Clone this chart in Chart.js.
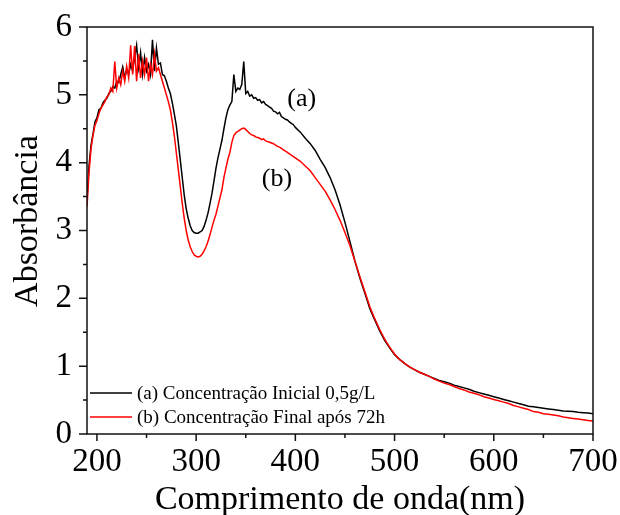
<!DOCTYPE html>
<html>
<head>
<meta charset="utf-8">
<title>Absorbância</title>
<script src="https://cdn.jsdelivr.net/npm/chart.js@4.4.0/dist/chart.umd.min.js"></script>
<style>
html,body{margin:0;padding:0;background:#fff;}
canvas{display:block;}
</style>
</head>
<body>
<canvas id="grafico_absorbancia" width="620" height="515"></canvas>
<script>
var comprimento_onda = [
	190,192,194,196,198,200,202,204,206,208,
	210,212,214,216,218,220,222,224,226,228,
	230,232,234,236,238,240,242,244,246,248,
	250,252,254,256,258,260,262,264,266,268,
	270,272,274,276,278,280,282,284,286,288,
	290,292,294,296,298,300,302,304,306,308,
	310,312,314,316,318,320,322,324,326,328,
	330,332,334,336,338,340,342,344,346,348,
	350,352,354,356,358,360,362,364,366,368,
	370,372,374,376,378,380,382,384,386,388,
	390,392,394,396,398,400,
	405,410,415,420,425,430,435,440,445,450,
	455,460,465,470,475,480,485,490,495,500,
	505,510,515,520,525,530,535,540,545,550,
	555,560,565,570,575,580,585,590,595,600,
	605,610,615,620,625,630,635,640,645,650,
	655,660,665,670,675,680,685,690,695,700
];
var abs_inicial = [
	3.45,3.95,4.25,4.42,4.60,4.66,4.78,4.80,4.88,4.92,
	4.95,5.02,5.05,5.12,5.10,5.20,5.18,5.30,5.41,5.25,
	5.38,5.30,5.45,5.35,5.55,5.73,5.40,5.62,5.30,5.55,
	5.35,5.45,5.30,5.81,5.35,5.69,5.45,5.47,5.30,5.28,
	5.20,5.10,5.02,4.88,4.72,4.55,4.30,4.04,3.78,3.52,
	3.32,3.18,3.07,3.00,2.97,2.96,2.96,2.98,3.00,3.06,
	3.15,3.26,3.40,3.55,3.73,3.92,4.07,4.20,4.33,4.50,
	4.66,4.78,4.85,4.90,5.30,5.05,5.10,5.08,5.15,5.49,
	5.02,5.05,4.98,5.00,4.95,4.96,4.92,4.93,4.88,4.90,
	4.86,4.84,4.82,4.80,4.76,4.75,4.72,4.74,4.68,4.66,
	4.64,4.63,4.60,4.58,4.56,4.52,
	4.45,4.36,4.28,4.18,4.05,3.93,3.78,3.60,3.38,3.12,
	2.84,2.55,2.30,2.08,1.85,1.68,1.52,1.38,1.27,1.17,
	1.10,1.04,0.99,0.95,0.91,0.88,0.85,0.82,0.79,0.77,
	0.75,0.72,0.70,0.68,0.66,0.63,0.61,0.59,0.57,0.55,
	0.53,0.51,0.49,0.47,0.45,0.43,0.41,0.40,0.39,0.38,
	0.37,0.36,0.35,0.34,0.335,0.33,0.32,0.315,0.31,0.30
];
var abs_final = [
	3.35,3.85,4.20,4.40,4.55,4.62,4.72,4.80,4.85,4.90,
	4.97,5.00,5.10,5.05,5.49,5.10,5.25,5.15,5.35,5.20,
	5.42,5.25,5.73,5.30,5.72,5.20,5.60,5.25,5.50,5.30,
	5.55,5.20,5.45,5.30,5.60,5.35,5.40,5.30,5.20,5.10,
	5.00,4.90,4.78,4.60,4.40,4.15,3.90,3.65,3.40,3.18,
	3.00,2.86,2.76,2.69,2.64,2.62,2.61,2.62,2.65,2.70,
	2.76,2.84,2.94,3.05,3.15,3.24,3.36,3.48,3.60,3.78,
	3.92,4.05,4.15,4.30,4.40,4.44,4.46,4.48,4.50,4.51,
	4.49,4.46,4.43,4.41,4.40,4.38,4.37,4.36,4.34,4.35,
	4.32,4.31,4.30,4.29,4.28,4.26,4.24,4.23,4.21,4.19,
	4.17,4.15,4.13,4.11,4.09,4.07,
	4.02,3.95,3.88,3.78,3.68,3.58,3.45,3.31,3.15,2.97,
	2.78,2.55,2.32,2.10,1.88,1.70,1.54,1.40,1.28,1.18,
	1.10,1.04,0.99,0.95,0.91,0.88,0.85,0.81,0.78,0.75,
	0.73,0.70,0.67,0.65,0.62,0.60,0.58,0.55,0.53,0.51,
	0.49,0.47,0.45,0.42,0.40,0.38,0.36,0.33,0.32,0.30,
	0.29,0.28,0.27,0.25,0.24,0.23,0.22,0.21,0.20,0.19
];
var x_ticks = [200,300,400,500,600,700];
var x_ticks_menores = [250,350,450,550,650];
var y_ticks = [0,1,2,3,4,5,6];
var y_ticks_menores = [0.5,1.5,2.5,3.5,4.5,5.5];
var series_nomes = ["(a) Concentração Inicial 0,5g/L","(b) Concentração Final após 72h"];
var series_cores = ["#000000","#ff0000"];
var rotulos_curvas = ["(a)","(b)"];
var rotulos_x = [406.5,381.5];
var rotulos_y = [4.83,3.65];
var titulo_x = "Comprimento de onda(nm)";
var titulo_y = "Absorbância";

var fonte = "'Liberation Serif', 'Times New Roman', serif";

function montar_pontos(valores){
	var pontos = [];
	for(var i=0;i<comprimento_onda.length;i++){
		pontos.push({x:comprimento_onda[i], y:valores[i]});
	}
	return pontos;
}

// tira o padding automatico dos eixos, a area do grafico fica fixa
function zerar_padding(s){
	s.paddingTop = 0;
	s.paddingBottom = 0;
	s.paddingLeft = 0;
	s.paddingRight = 0;
}

var plugin_moldura = {
	id: "moldura",
	afterDatasetsDraw: function(chart){
		var ctx = chart.ctx;
		var a = chart.chartArea;
		var sx = chart.scales.x;
		var sy = chart.scales.y;
		ctx.save();
		// caixa e marcas dos eixos
		ctx.strokeStyle = "#111";
		ctx.lineWidth = 1.5;
		ctx.strokeRect(a.left, a.top, a.right-a.left, a.bottom-a.top);
		ctx.beginPath();
		y_ticks.forEach(function(v){
			var p = sy.getPixelForValue(v);
			ctx.moveTo(a.left-8,p); ctx.lineTo(a.left,p);
		});
		y_ticks_menores.forEach(function(v){
			var p = sy.getPixelForValue(v);
			ctx.moveTo(a.left-4,p); ctx.lineTo(a.left,p);
		});
		x_ticks.forEach(function(v){
			var p = sx.getPixelForValue(v);
			ctx.moveTo(p,a.bottom); ctx.lineTo(p,a.bottom+7);
		});
		x_ticks_menores.forEach(function(v){
			var p = sx.getPixelForValue(v);
			ctx.moveTo(p,a.bottom); ctx.lineTo(p,a.bottom+4);
		});
		ctx.stroke();

		// legenda
		ctx.font = "19px " + fonte;
		ctx.textBaseline = "middle";
		ctx.textAlign = "left";
		for(var i=0;i<series_nomes.length;i++){
			var ly = 393 + i*24;
			ctx.strokeStyle = series_cores[i];
			ctx.lineWidth = 1.5;
			ctx.beginPath();
			ctx.moveTo(90,ly); ctx.lineTo(132,ly);
			ctx.stroke();
			ctx.fillStyle = "#000";
			ctx.fillText(series_nomes[i],137,ly+1);
		}

		// (a) e (b)
		ctx.font = "26px " + fonte;
		ctx.textAlign = "center";
		ctx.textBaseline = "alphabetic";
		for(var j=0;j<rotulos_curvas.length;j++){
			ctx.fillText(rotulos_curvas[j], sx.getPixelForValue(rotulos_x[j]), sy.getPixelForValue(rotulos_y[j]));
		}

		// titulos dos eixos
		ctx.font = "34px " + fonte;
		ctx.fillText(titulo_x, (a.left+a.right)/2, 509);
		ctx.translate(37,221);
		ctx.rotate(-Math.PI/2);
		ctx.fillText(titulo_y,0,0);
		ctx.restore();
	}
};

var grafico = new Chart(document.getElementById("grafico_absorbancia"), {
	type: "line",
	data: {
		datasets: [{
			label: series_nomes[0],
			data: montar_pontos(abs_inicial),
			borderColor: series_cores[0],
			borderWidth: 1.5,
			pointRadius: 0,
			tension: 0,
			fill: false,
			order: 2
		},{
			label: series_nomes[1],
			data: montar_pontos(abs_final),
			borderColor: series_cores[1],
			borderWidth: 1.5,
			pointRadius: 0,
			tension: 0,
			fill: false,
			order: 1
		}]
	},
	options: {
		responsive: false,
		animation: false,
		devicePixelRatio: 1,
		layout: { padding: { top: 27, right: 27, left: 0, bottom: 0 } },
		plugins: {
			legend: { display: false },
			tooltip: { enabled: false }
		},
		scales: {
			x: {
				type: "linear",
				min: 190,
				max: 700,
				grid: { display: false, drawTicks: false },
				border: { display: false },
				ticks: { font: { family: fonte, size: 33 }, color: "#000", padding: 9, maxRotation: 0, autoSkip: false },
				afterBuildTicks: function(s){ s.ticks = x_ticks.map(function(v){ return {value:v}; }); },
				afterFit: function(s){ s.height = 81; zerar_padding(s); }
			},
			y: {
				type: "linear",
				min: 0,
				max: 6,
				grid: { display: false, drawTicks: false },
				border: { display: false },
				ticks: { font: { family: fonte, size: 33 }, color: "#000", padding: 15, autoSkip: false },
				afterBuildTicks: function(s){ s.ticks = y_ticks.map(function(v){ return {value:v}; }); },
				afterFit: function(s){ s.width = 87; zerar_padding(s); }
			}
		}
	},
	plugins: [plugin_moldura]
});
</script>
</body>
</html>
